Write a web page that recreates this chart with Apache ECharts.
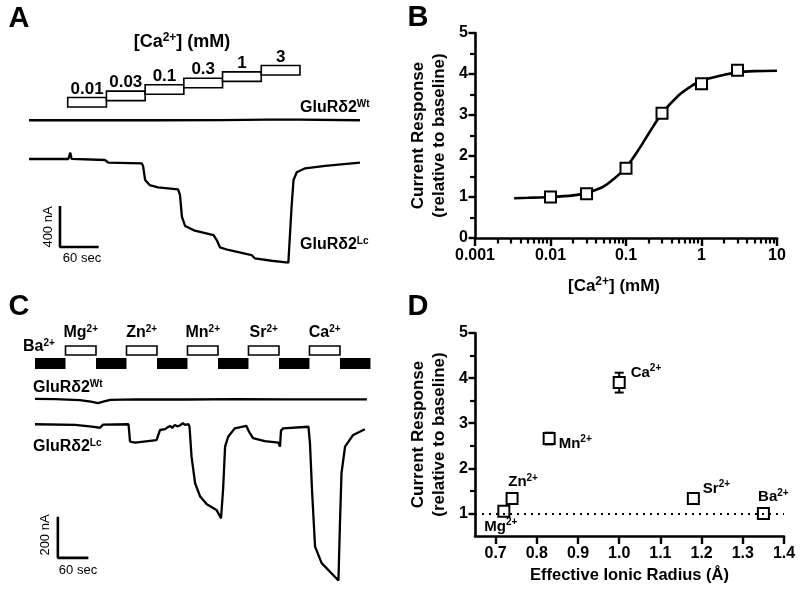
<!DOCTYPE html>
<html>
<head>
<meta charset="utf-8">
<script src="https://cdn.jsdelivr.net/npm/echarts@6/dist/echarts.min.js"></script>
<style>
  html, body { margin: 0; padding: 0; background: #fff; }
  #main { width: 800px; height: 592px; }
</style>
</head>
<body>
<div id="main"></div>
<script>
// ---------- Panel A : Ca2+ steps and oocyte currents ----------
const caSteps = ['0.01', '0.03', '0.1', '0.3', '1', '3'];
const caStepStart = [60, 120, 180, 240, 300, 360];   // sec
const stepLength = 60;                                // sec
// [time (s), current (nA)]
const wtTraceA = [[0, 378], [100, 379], [200, 378], [300, 380], [370, 385], [420, 384], [513, 378]];
const lcTraceA = [[0, 0], [61, 0], [64, 62], [66, 2], [118, -10], [123, -36], [175, -42], [177, -75],
  [180, -205], [187, -254], [200, -276], [231, -296], [234, -351], [237, -563], [242, -654],
  [257, -700], [286, -742], [291, -791], [296, -862], [309, -888], [345, -937], [350, -969],
  [376, -993], [402, -1012], [407, -466], [410, -205], [415, -130], [428, -91], [459, -68], [513, -36]];
const scaleA = { t: 48, i: -859, sec: 60, nA: 400 };

// ---------- Panel B : dose response ----------
const caConc = [0.01, 0.03, 0.1, 0.3, 1, 3];
const caResponse = [1.0, 1.08, 1.70, 3.04, 3.76, 4.09];
const fitConc = [0.0033, 0.005, 0.01, 0.02, 0.03, 0.05, 0.07, 0.1, 0.15, 0.2, 0.3, 0.5, 0.7, 1, 2, 3, 5, 10];
const fitResp = [0.97, 0.98, 1.0, 1.04, 1.1, 1.25, 1.45, 1.72, 2.18, 2.55, 3.04, 3.48, 3.68, 3.84, 3.98, 4.04, 4.07, 4.08];
const logMinorTicks = [0.002, 0.003, 0.004, 0.005, 0.006, 0.007, 0.008, 0.009,
  0.02, 0.03, 0.04, 0.05, 0.06, 0.07, 0.08, 0.09, 0.2, 0.3, 0.4, 0.5, 0.6, 0.7, 0.8, 0.9,
  2, 3, 4, 5, 6, 7, 8, 9];

// ---------- Panel C : divalent ions ----------
const ionNames = ['Mg', 'Zn', 'Mn', 'Sr', 'Ca'];
const ionStart = [60, 180, 300, 420, 540];
const baStart = [0, 120, 240, 360, 480, 600];
const wtTraceC = [[0, 125], [40, 124], [88, 119], [110, 112], [124, 104], [136, 113], [148, 120], [200, 123],
  [300, 122], [400, 124], [500, 123], [600, 123], [653, 123]];
const lcTraceC = [[0, 1], [79, -2], [112, -11], [128, -16], [134, -1], [184, 1], [187, -84], [197, -89],
  [239, -76], [246, -27], [256, -23], [262, -12], [266, -7], [270, -17], [275, -2], [280, -9], [285, -5],
  [291, 7], [295, -2], [302, 2], [304, -11], [308, -157], [315, -287], [325, -352], [338, -389],
  [357, -417], [366, -458], [370, -320], [374, -108], [380, -60], [393, -19], [416, -7], [421, -35],
  [429, -67], [452, -81], [479, -89], [482, -108], [484, -30], [488, -19], [538, -11], [541, -92],
  [545, -320], [551, -596], [564, -677], [597, -762], [600, -482], [603, -238], [610, -108],
  [626, -51], [649, -23]];
const scaleC = { t: 45, i: -651, sec: 60, nA: 200 };

// ---------- Panel D : ionic radius ----------
const dIons = ['Mg', 'Zn', 'Mn', 'Ca', 'Sr', 'Ba'];
const ionicRadius = [0.72, 0.74, 0.83, 1.00, 1.18, 1.35];
const ionResponse = [1.05, 1.33, 2.66, 3.90, 1.33, 1.00];
const ionSem = [0.02, 0.03, 0.13, 0.22, 0.03, 0.02];
const radiusTicks = [0.7, 0.8, 0.9, 1.0, 1.1, 1.2, 1.3, 1.4];
const responseTicks = [1, 2, 3, 4, 5];
const responseMinor = [1.5, 2.5, 3.5, 4.5];
const baselineResponse = 1;

// ---------- styling ----------
const FONT = '"Liberation Sans", Arial, sans-serif';
const BOLD16 = 'bold 16px ' + FONT;
const SUP = { fontSize: 10, fontWeight: 'bold', fontFamily: FONT, padding: [0, 0, 8, 0] };
const SUP_BIG = { fontSize: 12, fontWeight: 'bold', fontFamily: FONT, padding: [0, 0, 9, 0] };
const RICH = { s: SUP, S: SUP_BIG };
const sup = (base, s) => base + '{s|' + s + '}';
const supBig = (base, s) => base + '{S|' + s + '}';

const chart = echarts.init(document.getElementById('main'));

function txt(x, y, text, font, align) {
  return {
    type: 'text', x: x, y: y,
    style: { text: text, font: font || BOLD16, fill: '#000', align: align || 'left', verticalAlign: 'middle', rich: RICH }
  };
}
function regular(x, y, text, rot) {
  return {
    type: 'text', x: x, y: y, rotation: rot || 0,
    style: { text: text, font: '13px ' + FONT, fill: '#000', align: 'center', verticalAlign: 'middle' }
  };
}
function letter(x, y, t) {
  return { type: 'text', x: x, y: y, style: { text: t, font: 'bold 29px ' + FONT, fill: '#000', align: 'center', verticalAlign: 'middle' } };
}

const axisLine = { show: true, lineStyle: { color: '#000', width: 2.6 } };
const ghostLine = { show: true, lineStyle: { color: 'rgba(0,0,0,0)', width: 1 } };
const majorTick = { color: '#000', width: 2.4 };
const minorTick = { color: '#000', width: 2.2 };
const labelStyle = { color: '#000', fontFamily: FONT, fontWeight: 'bold', fontSize: 16 };
const nameStyle = { color: '#000', fontFamily: FONT, fontWeight: 'bold', fontSize: 17, lineHeight: 21, rich: RICH };

const traceLine = { color: '#000', width: 2.3 };

function scaleBar(s) {
  return [[s.t, s.i + s.nA], [s.t, s.i], [s.t + s.sec, s.i]];
}

// segments for panel C protocol: [start, end, kind(0 = Ba, 1 = test ion), ion index]
const protoC = baStart.map(t => [t, t + stepLength, 0, -1])
  .concat(ionStart.map((t, i) => [t, t + stepLength, 1, i]));

const dLabelLayout = {
  Mg: { position: 'bottom', distance: 0, offset: [-3, 0] },
  Zn: { position: 'top', distance: 3, offset: [11, 2] },
  Mn: { position: 'right', distance: 3, offset: [0, 5] },
  Ca: { position: 'right', distance: 5, offset: [0, -10] },
  Sr: { position: 'right', distance: 3, offset: [0, -10] },
  Ba: { position: 'top', distance: 3, offset: [10, 2] }
};

const option = {
  animation: false,
  backgroundColor: '#fff',
  textStyle: { fontFamily: FONT },
  grid: [
    { left: 29, top: 35, width: 332, height: 240 },          // A
    { left: 475, top: 33, width: 302, height: 205 },          // B
    { left: 35, top: 320, width: 338, height: 270 },          // C
    { left: 475, top: 333, width: 309, height: 203 }          // D
  ],
  xAxis: [
    { gridIndex: 0, type: 'value', min: 0, max: 514.6, show: false },
    {
      gridIndex: 1, type: 'log', logBase: 10, min: 0.001, max: 10, position: 'bottom',
      axisLine: axisLine, splitLine: { show: false },
      axisTick: { show: true, length: 8, lineStyle: majorTick },
      axisLabel: Object.assign({ margin: 10, formatter: v => String(parseFloat(v.toPrecision(3))) }, labelStyle),
      name: supBig('[Ca', '2+') + '] (mM)', nameLocation: 'middle', nameGap: 38,
      nameTextStyle: Object.assign({}, nameStyle, { padding: [0, 24, 0, 0] })
    },
    {
      gridIndex: 1, type: 'log', logBase: 10, min: 0.001, max: 10, position: 'bottom',
      axisLine: ghostLine, splitLine: { show: false }, axisLabel: { show: false },
      axisTick: { show: true, length: 5.5, customValues: logMinorTicks, lineStyle: minorTick }
    },
    { gridIndex: 2, type: 'value', min: 0, max: 665, show: false },
    {
      gridIndex: 3, type: 'value', min: 0.65, max: 1.4, position: 'bottom',
      axisLine: axisLine, splitLine: { show: false },
      axisTick: { show: true, length: 8, customValues: radiusTicks, lineStyle: majorTick },
      axisLabel: Object.assign({ margin: 10, customValues: radiusTicks, formatter: v => v.toFixed(1) }, labelStyle),
      name: 'Effective Ionic Radius (Å)', nameLocation: 'middle', nameGap: 29,
      nameTextStyle: Object.assign({}, nameStyle, { fontSize: 16.5 })
    }
  ],
  yAxis: [
    { gridIndex: 0, type: 'value', min: -1132, max: 1210, show: false },
    {
      gridIndex: 1, type: 'value', min: 0, max: 5, interval: 1,
      axisLine: axisLine, splitLine: { show: false },
      axisTick: { show: true, length: 6.5, lineStyle: majorTick },
      minorTick: { show: true, splitNumber: 2, length: 5, lineStyle: minorTick },
      axisLabel: Object.assign({ margin: 7 }, labelStyle),
      name: 'Current Response\n(relative to baseline)', nameLocation: 'middle', nameRotate: 90,
      nameGap: 25, nameTextStyle: nameStyle
    },
    { gridIndex: 2, type: 'value', min: -808, max: 510, show: false },
    {
      gridIndex: 3, type: 'value', min: 0.5, max: 5,
      axisLine: axisLine, splitLine: { show: false },
      axisTick: { show: true, length: 6.5, customValues: responseTicks, lineStyle: majorTick },
      axisLabel: Object.assign({ margin: 7, customValues: responseTicks }, labelStyle),
      name: 'Current Response\n(relative to baseline)', nameLocation: 'middle', nameRotate: 90,
      nameGap: 25, nameTextStyle: nameStyle
    },
    {
      gridIndex: 3, type: 'value', min: 0.5, max: 5, position: 'left',
      axisLine: ghostLine, splitLine: { show: false }, axisLabel: { show: false },
      axisTick: { show: true, length: 5, customValues: responseMinor, lineStyle: minorTick }
    }
  ],
  series: [
    // ----- A -----
    { type: 'line', xAxisIndex: 0, yAxisIndex: 0, data: wtTraceA, symbol: 'none', lineStyle: traceLine },
    { type: 'line', xAxisIndex: 0, yAxisIndex: 0, data: lcTraceA, symbol: 'none', lineStyle: traceLine },
    { type: 'line', xAxisIndex: 0, yAxisIndex: 0, data: scaleBar(scaleA), symbol: 'none', lineStyle: { color: '#000', width: 2.6 } },
    {
      type: 'custom', xAxisIndex: 0, yAxisIndex: 0,
      data: caSteps.map((c, i) => [caStepStart[i], caStepStart[i] + stepLength, i]),
      renderItem: (params, api) => {
        const i = api.value(2);
        const a = api.coord([api.value(0), 0]);
        const b = api.coord([api.value(1), 0]);
        const h = 9.5;
        const bottom = params.coordSys.y + 72 - i * 6.4;
        return {
          type: 'group', children: [
            { type: 'rect', shape: { x: a[0], y: bottom - h, width: b[0] - a[0], height: h },
              style: { fill: '#fff', stroke: '#000', lineWidth: 1.6 } },
            { type: 'text', x: (a[0] + b[0]) / 2, y: bottom - h,
              style: { text: caSteps[i], font: 'bold 17px ' + FONT, fill: '#000', align: 'center', verticalAlign: 'bottom' } }
          ]
        };
      }
    },
    // ----- B -----
    { type: 'line', xAxisIndex: 1, yAxisIndex: 1, data: fitConc.map((c, i) => [c, fitResp[i]]),
      symbol: 'none', smooth: 0.3, lineStyle: { color: '#000', width: 2.6 }, z: 2 },
    { type: 'scatter', xAxisIndex: 1, yAxisIndex: 1, data: caConc.map((c, i) => [c, caResponse[i]]),
      symbol: 'rect', symbolSize: 11, itemStyle: { color: '#fff', borderColor: '#000', borderWidth: 2, opacity: 1 }, z: 3 },
    // ----- C -----
    { type: 'line', xAxisIndex: 3, yAxisIndex: 2, data: wtTraceC, symbol: 'none', lineStyle: traceLine },
    { type: 'line', xAxisIndex: 3, yAxisIndex: 2, data: lcTraceC, symbol: 'none', lineStyle: traceLine },
    { type: 'line', xAxisIndex: 3, yAxisIndex: 2, data: scaleBar(scaleC), symbol: 'none', lineStyle: { color: '#000', width: 2.6 } },
    {
      type: 'custom', xAxisIndex: 3, yAxisIndex: 2,
      data: protoC,
      renderItem: (params, api) => {
        const kind = api.value(2);
        const ion = api.value(3);
        const a = api.coord([api.value(0), 0]);
        const b = api.coord([api.value(1), 0]);
        const top0 = params.coordSys.y;
        if (kind === 0) {
          return { type: 'rect', shape: { x: a[0], y: top0 + 38, width: b[0] - a[0], height: 11 },
            style: { fill: '#000' } };
        }
        return {
          type: 'group', children: [
            { type: 'rect', shape: { x: a[0], y: top0 + 26, width: b[0] - a[0], height: 9 },
              style: { fill: '#fff', stroke: '#000', lineWidth: 1.6 } },
            { type: 'text', x: (a[0] + b[0]) / 2, y: top0 + 13,
              style: { text: sup(ionNames[ion], '2+'), font: BOLD16, rich: RICH, fill: '#000', align: 'center', verticalAlign: 'middle' } }
          ]
        };
      }
    },
    // ----- D -----
    {
      type: 'custom', xAxisIndex: 4, yAxisIndex: 3, z: 1,
      data: ionicRadius.map((r, i) => [r, ionResponse[i], ionSem[i]]),
      renderItem: (params, api) => {
        const x = api.value(0), y = api.value(1), e = api.value(2);
        const t = api.coord([x, y + e]), b = api.coord([x, y - e]);
        const hw = 4.5, st = { stroke: '#000', lineWidth: 2 };
        return {
          type: 'group', children: [
            { type: 'line', shape: { x1: t[0], y1: t[1], x2: b[0], y2: b[1] }, style: st },
            { type: 'line', shape: { x1: t[0] - hw, y1: t[1], x2: t[0] + hw, y2: t[1] }, style: st },
            { type: 'line', shape: { x1: b[0] - hw, y1: b[1], x2: b[0] + hw, y2: b[1] }, style: st }
          ]
        };
      }
    },
    {
      type: 'scatter', xAxisIndex: 4, yAxisIndex: 3, z: 3,
      symbol: 'rect', symbolSize: 11, itemStyle: { color: '#fff', borderColor: '#000', borderWidth: 2, opacity: 1 },
      data: dIons.map((n, i) => ({
        value: [ionicRadius[i], ionResponse[i]],
        name: n,
        label: Object.assign({
          show: true, formatter: '{b|' + n + '}{s|2+}', color: '#000', opacity: 1,
          rich: { b: { fontSize: 15, fontWeight: 'bold', fontFamily: FONT, color: '#000' },
                  s: { fontSize: 10, fontWeight: 'bold', fontFamily: FONT, color: '#000', padding: [0, 0, 8, 0] } }
        }, dLabelLayout[n])
      })),
      markLine: {
        silent: true, symbol: 'none', label: { show: false },
        lineStyle: { color: '#000', width: 2, type: [2, 5], opacity: 1 },
        data: [{ yAxis: baselineResponse }]
      }
    }
  ],
  graphic: [
    letter(19, 19, 'A'), letter(418, 18, 'B'), letter(19, 307, 'C'), letter(418, 307, 'D'),
    txt(182, 42, supBig('[Ca', '2+') + '] (mM)', 'bold 18px ' + FONT, 'center'),
    txt(300, 108, sup('GluRδ2', 'Wt')),
    txt(300, 245, sup('GluRδ2', 'Lc')),
    regular(48, 227, '400 nA', Math.PI / 2),
    regular(82, 258, '60 sec'),
    txt(23, 347, sup('Ba', '2+')),
    txt(33, 388, sup('GluRδ2', 'Wt')),
    txt(33, 447, sup('GluRδ2', 'Lc')),
    regular(45, 535, '200 nA', Math.PI / 2),
    regular(78, 570, '60 sec')
  ]
};

chart.setOption(option);
</script>
</body>
</html>
